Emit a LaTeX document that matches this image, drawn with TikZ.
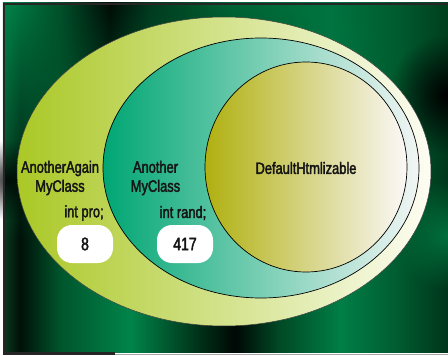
\documentclass[tikz,border=0pt]{standalone}
\usepackage{fontspec}
\setmainfont{Liberation Sans}[FakeStretch=0.78, FakeBold=2.2]
\usetikzlibrary{shapes.geometric,fadings}

% ground colours, lower band (left to right)
\definecolor{gb0}{HTML}{0A3A20}
\definecolor{gb1}{HTML}{001008}
\definecolor{gb2}{HTML}{00552C}
\definecolor{gb3}{HTML}{008449}
\definecolor{gb4}{HTML}{003018}
\definecolor{gb5}{HTML}{000804}
\definecolor{gb6}{HTML}{004A26}
\definecolor{gb7}{HTML}{007E46}
\definecolor{gb8}{HTML}{005A30}
\definecolor{gb9}{HTML}{00341A}
% ground colours, upper band
\definecolor{gt0}{HTML}{00854A}
\definecolor{gt1}{HTML}{00502A}
\definecolor{gt2}{HTML}{000C06}
\definecolor{gt3}{HTML}{003A1E}
\definecolor{gt4}{HTML}{006434}
\definecolor{gt5}{HTML}{007440}
\definecolor{gt6}{HTML}{005A2E}
\definecolor{gt7}{HTML}{00401F}
% rings
\definecolor{outerL}{HTML}{AAC825}
\definecolor{outerR}{HTML}{FDFDF4}
\definecolor{midL}{HTML}{00A673}
\definecolor{midM}{HTML}{7CC6AA}
\definecolor{midR}{HTML}{F2F6F5}
\definecolor{innL}{HTML}{B0B010}
\definecolor{innM}{HTML}{D8D698}
\definecolor{innR}{HTML}{FBF8F8}
\definecolor{ink}{HTML}{151515}

\pgfdeclarehorizontalshading{groundbottom}{100bp}{%
  color(0bp)=(gb0); color(25bp)=(gb0); color(26.9bp)=(gb1);
  color(31.4bp)=(gb2); color(39.3bp)=(gb3); color(47.1bp)=(gb4);
  color(51.1bp)=(gb5); color(56.1bp)=(gb6); color(62.9bp)=(gb7);
  color(69.6bp)=(gb8); color(75bp)=(gb9); color(100bp)=(gb9)}
\pgfdeclarehorizontalshading{groundtop}{100bp}{%
  color(0bp)=(gt0); color(25bp)=(gt0); color(31.4bp)=(gt1);
  color(37bp)=(gt2); color(41.5bp)=(gt3); color(50.5bp)=(gt4);
  color(61.7bp)=(gt5); color(69.6bp)=(gt6); color(75bp)=(gt7);
  color(100bp)=(gt7)}

\tikzfading[name=topfade, top color=transparent!0, bottom color=transparent!100]
\tikzfading[name=blobfade, inner color=transparent!0, outer color=transparent!100]

\tikzset{
  ring/.style={ellipse, inner sep=0pt, draw=black, line width=0.7pt},
  label/.style={text=ink, inner sep=0pt, align=center,
    font=\fontsize{16.5}{19}\selectfont},
  valuebox/.style={fill=white, rounded corners=15pt, minimum width=56pt,
    minimum height=38pt, inner sep=0pt, text=ink,
    font=\fontsize{18}{19}\selectfont},
}

\begin{document}
\begin{tikzpicture}[x=1pt, y=-1pt]
  \useasboundingbox (0,0) rectangle (448,356);
  \fill[white] (0,0) rectangle (448,356);

  % dark green ground
  \shade[shading=groundbottom] (3,3) rectangle (448,352);
  \shade[shading=groundtop, path fading=topfade] (3,3) rectangle (448,240);
  \fill[black, path fading=blobfade] (448,95) circle (60pt);
  \fill[gb7, path fading=blobfade, opacity=0.8] (448,235) circle (55pt);
  \fill[black, path fading=blobfade, opacity=0.8] (8,180) circle (40pt);

  % frame
  \draw[black!85, line width=2.5pt] (4.2,352) -- (4.2,4.2) -- (448,4.2);
  \fill[black!85] (3,352) rectangle (115,355);
  \draw[gray!70, line width=1pt] (115,354) -- (448,354);

  % nested rings
  \node[ring, draw=black!75, line width=0.5pt, minimum width=414pt, minimum height=309pt,
        left color=outerL, right color=outerR] (outerring) at (224,171.5) {};
  \node[ring, minimum width=316pt, minimum height=260pt,
        left color=midL, middle color=midM, right color=midR] (midring) at (261,168) {};
  \node[ring, minimum width=202pt, minimum height=210pt,
        left color=innL, middle color=innM, right color=innR] (innring) at (306,167) {};

  % class names
  \node[label] (outername) at (60,178) {AnotherAgain\\MyClass};
  \node[label] (midname) at (155.5,178) {Another\\MyClass};
  \node[label] (innname) at (306,168) {DefaultHtmlizable};

  % fields and their values
  \node[label] (profield) at (84,213) {int pro;};
  \node[valuebox] (proval) at (85,244) {8};
  \node[label] (randfield) at (183,213) {int rand;};
  \node[valuebox] (randval) at (185,244) {417};
\end{tikzpicture}
\end{document}
